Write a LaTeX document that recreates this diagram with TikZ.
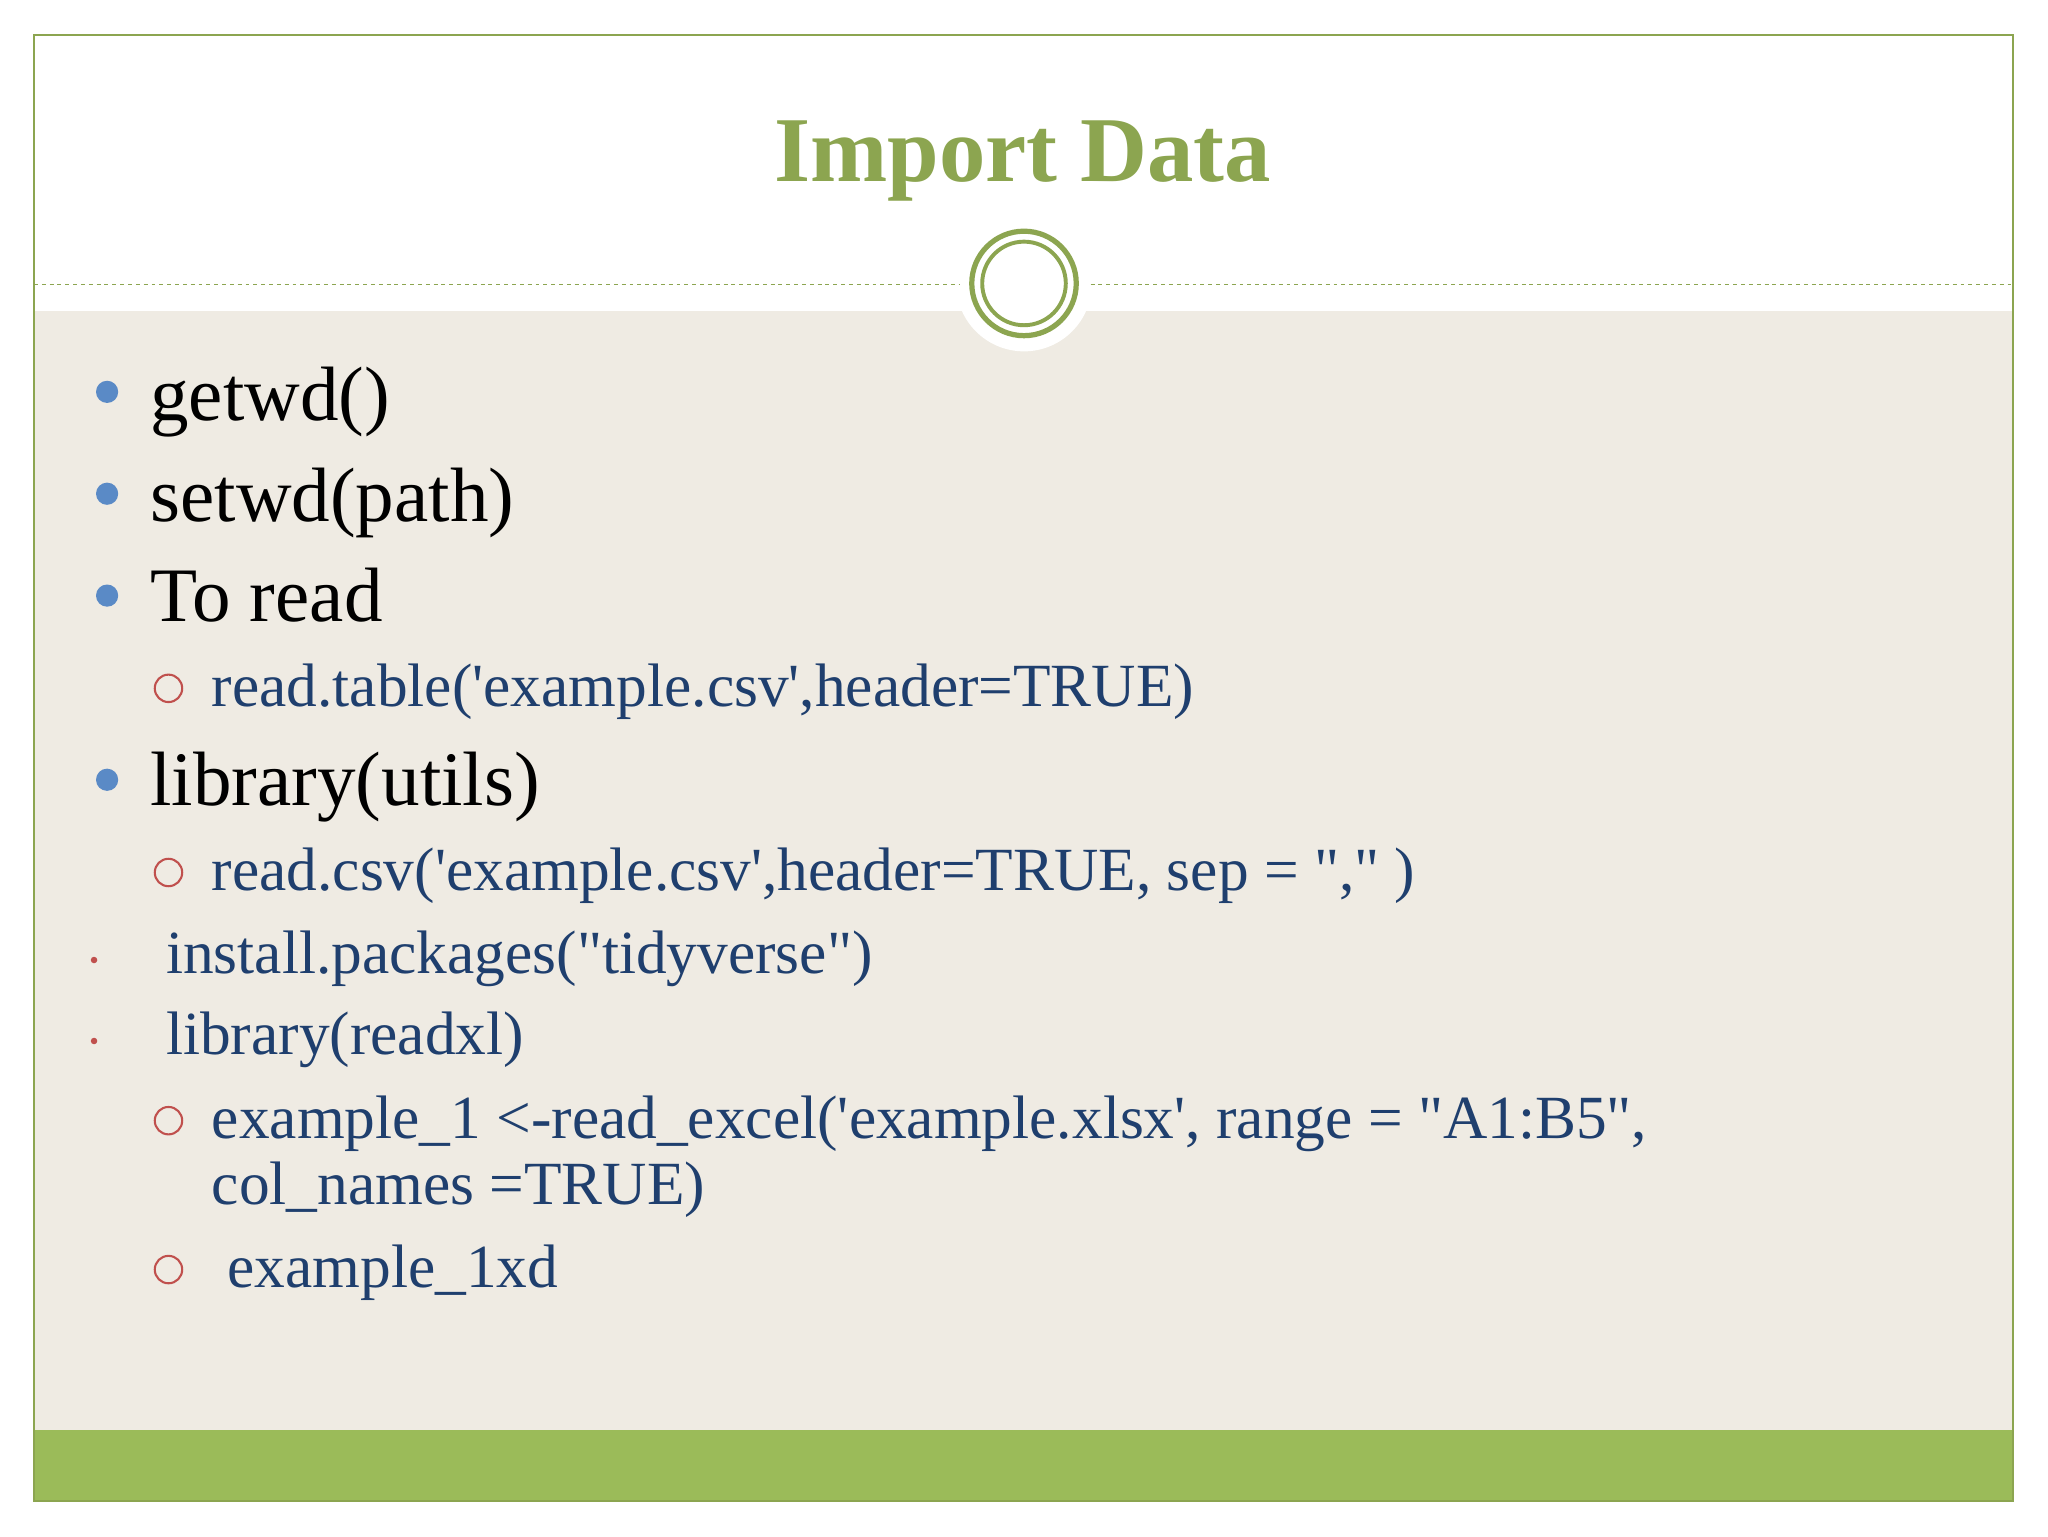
\documentclass[tikz,border=0pt]{standalone}
\usepackage{fontspec}
\setmainfont{Liberation Serif}
\newfontfamily\plainserif{Liberation Serif}
\definecolor{olive}{HTML}{8CA550}
\definecolor{barg}{HTML}{9BBB59}
\definecolor{beige}{HTML}{EFEBE3}
\definecolor{bblue}{HTML}{5A8AC6}
\definecolor{tblue}{HTML}{1F3F6E}
\definecolor{bred}{HTML}{C0504D}
\begin{document}
\begin{tikzpicture}[x=1pt,y=-1pt,
  lone/.style={anchor=base west,font=\plainserif\fontsize{59}{66}\selectfont,text=black,inner sep=0},
  ltwo/.style={anchor=base west,font=\plainserif\fontsize{47}{54}\selectfont,text=tblue,inner sep=0},
  bdot/.style={fill=bblue,circle,minimum size=17,inner sep=0},
  ring/.style={draw=bred,line width=1.6,circle,minimum size=21,inner sep=0},
  sdot/.style={fill=bred,circle,minimum size=5,inner sep=0}]
\useasboundingbox (0,0) rectangle (1568,1176);
\fill[white] (0,0) rectangle (1568,1176);
\fill[beige] (26,238) rectangle (1541,1095);
\fill[white] (784,217) circle (52);
\fill[barg] (26,1095) rectangle (1541,1149);
\draw[olive,line width=1.2] (26,27) rectangle (1541,1149);
\draw[olive,dashed,line width=1] (26,218) -- (735,218);
\draw[olive,dashed,line width=1] (835,218) -- (1541,218);
\node[circle,draw=olive,line width=4,minimum size=80,inner sep=0] (r1) at (784,217) {};
\node[circle,draw=olive,line width=3,minimum size=64,inner sep=0] (r2) at (784,217) {};
\node[font=\bfseries\fontsize{71}{76}\selectfont,text=olive] (title) at (783,123) {Import Data};
\node[bdot] (d1) at (82,300) {}; \node[lone] (t1) at (115,322) {getwd()};
\node[bdot] (d2) at (82,378) {}; \node[lone] (t2) at (115,399) {setwd(path)};
\node[bdot] (d3) at (82,456) {}; \node[lone] (t3) at (115,476) {To read};
\node[ring] (c1) at (129,527) {}; \node[ltwo] (s1) at (162,541) {read.table('example.csv',header=TRUE)};
\node[bdot] (d4) at (82,597) {}; \node[lone] (t4) at (115,617) {library(utils)};
\node[ring] (c2) at (129,668) {}; \node[ltwo] (s2) at (162,682) {read.csv('example.csv',header=TRUE, sep = "," )};
\node[sdot] (e1) at (72,735) {}; \node[ltwo] (u1) at (127,745) {install.packages("tidyverse")};
\node[sdot] (e2) at (72,797) {}; \node[ltwo] (u2) at (127,807) {library(readxl)};
\node[ring] (c3) at (129,858) {}; \node[ltwo] (s3) at (162,872) {example\_1 <-read\_excel('example.xlsx', range = "A1:B5",};
\node[ltwo] (s3b) at (162,922) {col\_names =TRUE)};
\node[ring] (c4) at (129,972) {}; \node[ltwo] (s4) at (174,986) {example\_1xd};
\end{tikzpicture}
\end{document}
